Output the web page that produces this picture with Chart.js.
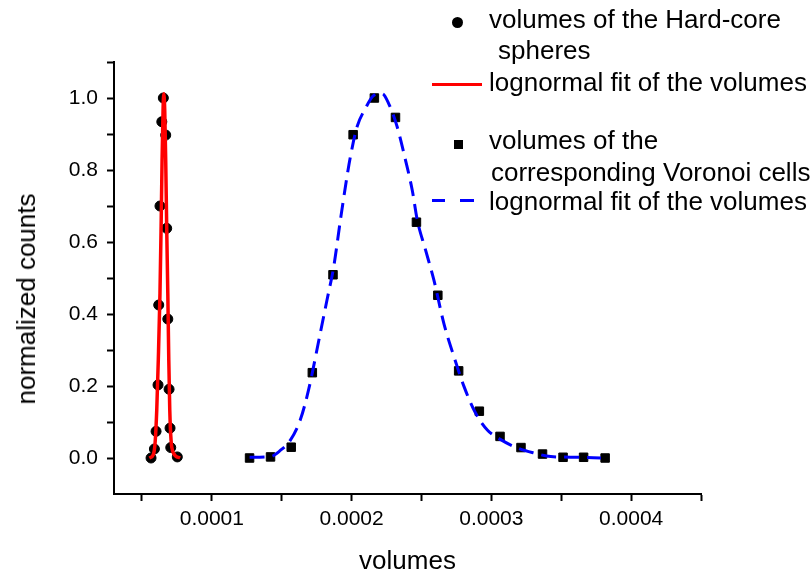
<!DOCTYPE html>
<html>
<head>
<meta charset="utf-8">
<script src="https://cdn.jsdelivr.net/npm/chart.js@4.4.0/dist/chart.umd.min.js"></script>
<style>
  body { margin: 0; background: #fff; font-family: 'Liberation Sans', Arial, sans-serif; }
  #wrap { position: relative; width: 812px; height: 577px; }
  #chart { position: absolute; left: 0; top: 0; }
  .lg { position: absolute; font-size: 26px; line-height: 30px; color: #000; white-space: nowrap; }
  .sym { position: absolute; }
  .ytitle { position: absolute; left: 26px; top: 299px; font-size: 26px; line-height: 30px; white-space: nowrap;
            transform: translate(-50%, -50%) rotate(-90deg); }
</style>
</head>
<body>
<div id="wrap">
  <canvas id="chart" width="812" height="577"></canvas>

  <div class="ytitle">normalized counts</div>

  <div class="sym" style="left:452px;top:17px;width:11px;height:11px;border-radius:50%;background:#000"></div>
  <div class="lg" style="left:489px;top:4px">volumes of the Hard-core</div>
  <div class="lg" style="left:498px;top:35px">spheres</div>
  <div class="sym" style="left:432px;top:83px;width:50px;height:3px;background:#ff0000"></div>
  <div class="lg" style="left:489px;top:67px">lognormal fit of the volumes</div>

  <div class="sym" style="left:454px;top:140px;width:9px;height:9px;background:#000"></div>
  <div class="lg" style="left:489px;top:125px">volumes of the</div>
  <div class="lg" style="left:491px;top:157px">corresponding Voronoi cells</div>
  <div class="sym" style="left:432px;top:199px;width:13px;height:3px;background:#0000ff"></div>
  <div class="sym" style="left:460px;top:199px;width:14px;height:3px;background:#0000ff"></div>
  <div class="lg" style="left:489px;top:186px">lognormal fit of the volumes</div>
</div>
<script>
// hard-core sphere volumes (black circles) and their lognormal fit (red)
const hardX = [0.0000565, 0.0000589, 0.0000601, 0.0000615, 0.0000620, 0.0000629, 0.0000642, 0.0000653,
               0.0000670, 0.0000677, 0.0000685, 0.0000694, 0.0000701, 0.0000706, 0.0000753];
const hardY = [0.0, 0.025, 0.074, 0.203, 0.425, 0.700, 0.934, 1.0,
               0.897, 0.638, 0.386, 0.191, 0.083, 0.029, 0.003];
const hardFitX = [0.0000553, 0.0000581, 0.0000594, 0.0000606, 0.0000617, 0.0000629, 0.0000637, 0.0000644,
                  0.0000651, 0.0000656, 0.0000663, 0.0000670, 0.0000677, 0.0000685, 0.0000692, 0.0000699,
                  0.0000708, 0.0000725, 0.0000773];
const hardFitY = [0.0, 0.009, 0.042, 0.134, 0.273, 0.458, 0.642, 0.827,
                  0.966, 1.012, 0.966, 0.827, 0.642, 0.458, 0.273, 0.134,
                  0.051, 0.014, 0.0];

// Voronoi cell volumes (black squares) and their lognormal fit (blue dashed)
const voroX = [0.0001270, 0.0001420, 0.0001568, 0.0001719, 0.0001867, 0.0002011, 0.0002163, 0.0002314, 0.0002464,
               0.0002617, 0.0002766, 0.0002914, 0.0003062, 0.0003212, 0.0003366, 0.0003513, 0.0003660, 0.0003814];
const voroY = [0.0, 0.003, 0.030, 0.237, 0.509, 0.898, 1.0, 0.946, 0.655,
               0.452, 0.242, 0.130, 0.060, 0.029, 0.011, 0.002, 0.002, 0.0];
const voroFitX = [0.0001270, 0.0001420, 0.0001490, 0.0001561, 0.0001633, 0.0001692, 0.0001776, 0.0001824, 0.0001872,
                  0.0001920, 0.0001963, 0.0001991, 0.0002039, 0.0002099, 0.0002158, 0.0002219, 0.0002266, 0.0002326,
                  0.0002386, 0.0002434, 0.0002470, 0.0002529, 0.0002589, 0.0002660, 0.0002732, 0.0002804, 0.0002887,
                  0.0002971, 0.0003067, 0.0003186, 0.0003305, 0.0003425, 0.0003616, 0.0003784];
const voroFitY = [0.002, 0.004, 0.021, 0.049, 0.106, 0.189, 0.347, 0.439, 0.531,
                  0.661, 0.772, 0.836, 0.920, 0.971, 1.007, 1.012, 0.984, 0.920,
                  0.827, 0.744, 0.661, 0.578, 0.494, 0.374, 0.282, 0.199, 0.125,
                  0.078, 0.051, 0.028, 0.014, 0.004, 0.002, 0.0];

const xTicks = [0.00005, 0.0001, 0.00015, 0.0002, 0.00025, 0.0003, 0.00035, 0.0004, 0.00045];
const xTickLabels = ['', '0.0001', '', '0.0002', '', '0.0003', '', '0.0004', ''];
const yTicks = [0, 0.1, 0.2, 0.3, 0.4, 0.5, 0.6, 0.7, 0.8, 0.9, 1.0, 1.1];
const yTickLabels = ['0.0', '', '0.2', '', '0.4', '', '0.6', '', '0.8', '', '1.0', ''];

const pts = (xs, ys) => xs.map((x, i) => ({ x, y: ys[i] }));
const tickFont = { family: "'Liberation Sans', Arial, sans-serif", size: 21 };
const titleFont = { family: "'Liberation Sans', Arial, sans-serif", size: 26 };

new Chart(document.getElementById('chart'), {
  type: 'scatter',
  data: {
    datasets: [
      { data: pts(hardFitX, hardFitY), showLine: true, borderColor: '#ff0000', borderWidth: 3.5, pointRadius: 0,
        cubicInterpolationMode: 'monotone', order: 0 },
      { data: pts(voroFitX, voroFitY), showLine: true, borderColor: '#0000ff', borderWidth: 3, borderDash: [15, 8],
        pointRadius: 0, cubicInterpolationMode: 'monotone', order: 0 },
      { data: pts(hardX, hardY), pointStyle: 'circle', pointRadius: 5, borderWidth: 1,
        backgroundColor: '#000', borderColor: '#000', order: 1 },
      { data: pts(voroX, voroY), pointStyle: 'rect', pointRadius: 6, borderWidth: 1,
        backgroundColor: '#000', borderColor: '#000', order: 1 }
    ]
  },
  options: {
    responsive: false,
    animation: false,
    events: [],
    layout: { padding: { top: 62, right: 111, left: 0, bottom: 0 } },
    plugins: { legend: { display: false }, tooltip: { enabled: false } },
    scales: {
      x: {
        type: 'linear', min: 0.00003, max: 0.00045,
        afterBuildTicks: s => { s.ticks = xTicks.map(v => ({ value: v })); },
        afterFit: s => { s.height = 83; },
        border: { display: true, color: '#000', width: 2 },
        grid: { drawOnChartArea: false, drawTicks: true, tickLength: 7, tickWidth: 2, tickColor: '#000' },
        ticks: { autoSkip: false, maxRotation: 0, padding: 6, color: '#000', font: tickFont,
                 callback: (v, i) => xTickLabels[i] },
        title: { display: true, text: 'volumes', color: '#000', font: titleFont, padding: { top: 0, bottom: 0 } }
      },
      y: {
        type: 'linear', min: -0.1, max: 1.1,
        afterBuildTicks: s => { s.ticks = yTicks.map(v => ({ value: v })); },
        afterFit: s => { s.width = 114; },
        border: { display: true, color: '#000', width: 2 },
        grid: { drawOnChartArea: false, drawTicks: true, tickLength: 7, tickWidth: 2, tickColor: '#000' },
        ticks: { autoSkip: false, padding: 9, color: '#000', font: tickFont,
                 callback: (v, i) => yTickLabels[i] },
        title: { display: false }
      }
    }
  }
});
</script>
</body>
</html>
